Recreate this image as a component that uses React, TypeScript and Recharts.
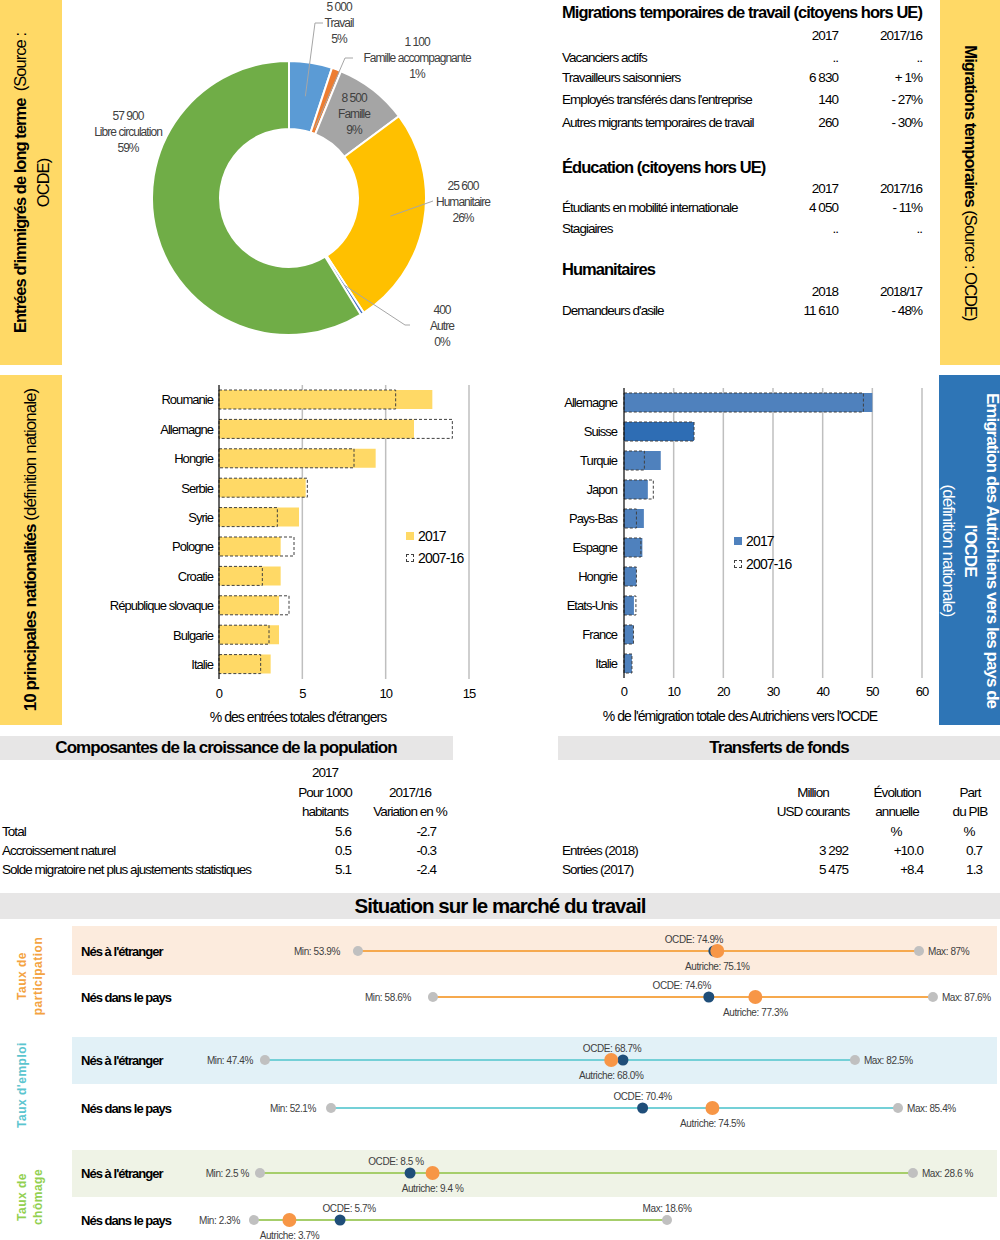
import React from "react";
import {
  PieChart,
  Pie,
  Cell,
  BarChart,
  Bar,
  XAxis,
  YAxis,
  CartesianGrid,
  Legend,
  ScatterChart,
  Scatter,
} from "recharts";

// no narrow face is installed, so tighten the tracking instead
const NARROW = "'Liberation Sans Narrow', 'Arial Narrow', 'Liberation Sans', Arial, sans-serif";
const WIDE = "'Liberation Sans', Arial, sans-serif";
const TIGHT = "-0.06em";
const YELLOW = "#FFD966";
const BLUE_BAND = "#2E75B6";

// Entrées d'immigrés de long terme
const entryCategories = ["Travail", "Famille accompagnante", "Famille", "Humanitaire", "Autre", "Libre circulation"];
const entryValues = [5000, 1100, 8500, 25600, 400, 57900];
const entryColors = ["#5B9BD5", "#ED7D31", "#A5A5A5", "#FFC000", "#4472C4", "#70AD47"];

// Migrations temporaires
const tempWorkLabels = ["Vacanciers actifs", "Travailleurs saisonniers", "Employés transférés dans l'entreprise", "Autres migrants temporaires de travail"];
const tempWork2017 = [null, 6830, 140, 260];
const tempWorkChange = [null, 1, -27, -30];
const eduLabels = ["Étudiants en mobilité internationale", "Stagiaires"];
const edu2017 = [4050, null];
const eduChange = [-11, null];
const humLabels = ["Demandeurs d'asile"];
const hum2018 = [11610];
const humChange = [-48];

// 10 principales nationalités
const immCountries = ["Roumanie", "Allemagne", "Hongrie", "Serbie", "Syrie", "Pologne", "Croatie", "République slovaque", "Bulgarie", "Italie"];
const imm2017 = [12.8, 11.7, 9.4, 5.2, 4.8, 3.7, 3.7, 3.6, 3.6, 3.1];
const imm0716 = [10.6, 14.0, 8.1, 5.3, 3.5, 4.5, 2.6, 4.2, 3.0, 2.5];
const immTicks = [0, 5, 10, 15];

// Emigration des Autrichiens
const emiCountries = ["Allemagne", "Suisse", "Turquie", "Japon", "Pays-Bas", "Espagne", "Hongrie", "Etats-Unis", "France", "Italie"];
const emi2017 = [50.0, 14.1, 7.4, 4.8, 4.0, 3.7, 2.5, 2.0, 1.9, 1.6];
const emi0716 = [48.2, 14.1, 4.1, 5.9, 2.5, 3.4, 2.5, 2.4, 1.9, 1.6];
const emiTicks = [0, 10, 20, 30, 40, 50, 60];

// Composantes de la croissance de la population
const popLabels = ["Total", "Accroissement naturel", "Solde migratoire net plus ajustements statistiques"];
const popPer1000 = [5.6, 0.5, 5.1];
const popChange = [-2.7, -0.3, -2.4];

// Transferts de fonds
const remLabels = ["Entrées (2018)", "Sorties (2017)"];
const remUsd = [3292, 5475];
const remGrowth = [10.0, 8.4];
const remGdp = [0.7, 1.3];

// Situation sur le marché du travail (valeurs telles qu'affichées)
const laborRowLabels = ["Nés à l'étranger", "Nés dans le pays"];
const partMin = ["53.9", "58.6"];
const partMax = ["87", "87.6"];
const partOcde = ["74.9", "74.6"];
const partAut = ["75.1", "77.3"];
const empMin = ["47.4", "52.1"];
const empMax = ["82.5", "85.4"];
const empOcde = ["68.7", "70.4"];
const empAut = ["68.0", "74.5"];
const unMin = ["2.5", "2.3"];
const unMax = ["28.6", "18.6"];
const unOcde = ["8.5", "5.7"];
const unAut = ["9.4", "3.7"];

const fmt = (v: number) => String(v).replace(/\B(?=(\d{3})+(?!\d))/g, " ");
const fmtChange = (v: number | null) => (v == null ? ".." : v > 0 ? `+ ${v}%` : `- ${Math.abs(v)}%`);

// label placement around the donut, relative to its centre
const entryLabelLayout: Record<string, any> = {
  Travail: { tx: 50, ty: -175, r: 103, leader: [[26, -175], [34, -175]] },
  "Famille accompagnante": { tx: 128, ty: -140, r: 75, leader: [[56, -140], [64, -140]] },
  Famille: { tx: 65, ty: -84 },
  Humanitaire: { tx: 174, ty: 4, r: 103, leader: [[144, 3]] },
  Autre: { tx: 153, ty: 128, r: 103, leader: [[116, 127], [121, 127]] },
  "Libre circulation": { tx: -161, ty: -66 },
};

const RAD = Math.PI / 180;

function renderEntryLabel(props: any) {
  const { cx, cy, midAngle, percent, name, value } = props;
  const lay = entryLabelLayout[name];
  if (!lay) return null;
  const tx = cx + lay.tx;
  const ty = cy + lay.ty;
  let leader = null;
  if (lay.leader) {
    const sx = cx + lay.r * Math.cos(-midAngle * RAD);
    const sy = cy + lay.r * Math.sin(-midAngle * RAD);
    const pts = [[sx, sy], ...lay.leader.map(([dx, dy]: number[]) => [cx + dx, cy + dy])];
    leader = <polyline points={pts.map((p) => p.join(",")).join(" ")} fill="none" stroke="#A6A6A6" strokeWidth={1} />;
  }
  const lines = [fmt(value), name, `${Math.round(percent * 100)}%`];
  return (
    <g>
      {leader}
      <text textAnchor="middle" fontSize={12} fill="#404040" fontFamily={NARROW}>
        {lines.map((l, i) => (
          <tspan key={i} x={tx} y={ty + (i - 1) * 16} dominantBaseline="central">
            {l}
          </tspan>
        ))}
      </text>
    </g>
  );
}

function T({ x, y, a = "l", size = 13.5, bold = false, color = "#000", children, lh = 18 }: any) {
  const w = 460;
  const left = a === "l" ? x : a === "r" ? x - w : x - w / 2;
  return (
    <div
      style={{
        position: "absolute",
        left,
        top: y - lh / 2,
        width: w,
        lineHeight: `${lh}px`,
        fontSize: size,
        fontWeight: bold ? 700 : 400,
        color,
        textAlign: a === "l" ? "left" : a === "r" ? "right" : "center",
        whiteSpace: "nowrap",
      }}
    >
      {children}
    </div>
  );
}

function VBand({ left, top, width, height, bg, color = "#000", rotate, children }: any) {
  return (
    <div style={{ position: "absolute", left, top, width, height, background: bg }}>
      <div
        style={{
          position: "absolute",
          left: (width - height) / 2,
          top: (height - width) / 2,
          width: height,
          height: width,
          transform: `rotate(${rotate}deg)`,
          display: "flex",
          flexDirection: "column",
          justifyContent: "center",
          alignItems: "center",
          textAlign: "center",
          color,
          whiteSpace: "nowrap",
        }}
      >
        {children}
      </div>
    </div>
  );
}

function GroupLabel({ cx, cy, color, lines }: any) {
  const w = 120;
  const h = 40;
  return (
    <div
      style={{
        position: "absolute",
        left: cx - w / 2,
        top: cy - h / 2,
        width: w,
        height: h,
        transform: "rotate(-90deg)",
        display: "flex",
        flexDirection: "column",
        justifyContent: "center",
        alignItems: "center",
        fontFamily: WIDE,
        fontWeight: 700,
        fontSize: 12,
        letterSpacing: "0.5px",
        lineHeight: "16px",
        color,
      }}
    >
      {lines.map((l: string) => (
        <div key={l}>{l}</div>
      ))}
    </div>
  );
}

const barLegend = (fill: string, rowH: number) => () => (
  <div style={{ fontFamily: NARROW, fontSize: 14, color: "#000", letterSpacing: TIGHT }}>
    <div style={{ display: "flex", alignItems: "center", height: rowH }}>
      <span style={{ display: "inline-block", width: 8, height: 8, background: fill, marginRight: 4 }} />
      2017
    </div>
    <div style={{ display: "flex", alignItems: "center", height: rowH }}>
      <span style={{ display: "inline-block", width: 6, height: 6, border: "1px dashed #404040", marginRight: 4 }} />
      2007-16
    </div>
  </div>
);

const tickStyle = { fill: "#000", fontSize: 13, fontFamily: NARROW };

function NationalityBars() {
  const data = immCountries.map((name, i) => ({ name, v2017: imm2017[i], v0716: imm0716[i] }));
  return (
    <BarChart layout="vertical" width={427} height={355} data={data} margin={{ top: 10, right: 20, bottom: 5, left: 0 }}>
      <CartesianGrid yAxisId="a" horizontal={false} stroke="#BFBFBF" strokeWidth={1.5} />
      <XAxis
        type="number"
        domain={[0, 15]}
        ticks={immTicks}
        axisLine={false}
        tickLine={false}
        tickSize={0}
        tickMargin={10}
        height={46}
        tick={tickStyle}
        label={{ value: "% des entrées totales d'étrangers", position: "insideBottom", offset: 3, dx: -46, fill: "#000", fontSize: 14, fontFamily: NARROW }}
      />
      <YAxis yAxisId="a" type="category" dataKey="name" width={157} axisLine={{ stroke: "#000" }} tickLine={false} tickSize={0} tickMargin={6} tick={tickStyle} interval={0} />
      <YAxis yAxisId="b" type="category" dataKey="name" hide />
      <Bar yAxisId="a" dataKey="v2017" fill={YELLOW} barSize={19} isAnimationActive={false} />
      <Bar yAxisId="b" dataKey="v0716" fill="none" stroke="#404040" strokeDasharray="3 2" barSize={19} isAnimationActive={false} />
      <Legend layout="vertical" align="center" verticalAlign="middle" wrapperStyle={{ left: 344, top: 150, width: "auto" }} content={barLegend(YELLOW, 22)} />
    </BarChart>
  );
}

function EmigrationBars() {
  const data = emiCountries.map((name, i) => ({ name, v2017: emi2017[i], v0716: emi0716[i] }));
  return (
    <BarChart layout="vertical" width={397} height={354} data={data} margin={{ top: 13, right: 15, bottom: 5, left: 0 }}>
      <CartesianGrid yAxisId="a" horizontal={false} stroke="#BFBFBF" strokeWidth={1.5} />
      <XAxis
        type="number"
        domain={[0, 60]}
        ticks={emiTicks}
        axisLine={false}
        tickLine={false}
        tickSize={0}
        tickMargin={9}
        height={46}
        tick={tickStyle}
        label={{ value: "% de l'émigration totale des Autrichiens vers l'OCDE", position: "insideBottom", offset: 3, dx: -33, fill: "#000", fontSize: 14, fontFamily: NARROW }}
      />
      <YAxis yAxisId="a" type="category" dataKey="name" width={84} axisLine={{ stroke: "#000" }} tickLine={false} tickSize={0} tickMargin={7} tick={tickStyle} interval={0} />
      <YAxis yAxisId="b" type="category" dataKey="name" hide />
      <Bar yAxisId="a" dataKey="v2017" fill="#4F81BD" barSize={19} isAnimationActive={false}>
        {data.map((d) => (
          <Cell key={d.name} fill={d.name === "Suisse" ? "#2E6DB4" : "#4F81BD"} />
        ))}
      </Bar>
      <Bar yAxisId="b" dataKey="v0716" fill="none" stroke="#404040" strokeDasharray="3 2" barSize={19} isAnimationActive={false} />
      <Legend layout="vertical" align="center" verticalAlign="middle" wrapperStyle={{ left: 194, top: 154, width: "auto" }} content={barLegend("#4F81BD", 23)} />
    </BarChart>
  );
}

// layout of each labour-market row
const laborGroups = [
  {
    name: ["Taux de", "participation"],
    color: "#F4A341",
    line: "#F6A94E",
    band: "#FCEBDD",
    min: partMin,
    max: partMax,
    ocde: partOcde,
    aut: partAut,
    rows: [
      { y: 951, domain: [32.78, 91.78], minDx: -18, ocdeDx: -20, unit: "%", bandTop: 926, bandH: 49 },
      { y: 997, domain: [33.49, 91.49], minDx: -22, ocdeDx: -27, unit: "%" },
    ],
    label: { cx: 30, cy: 976 },
  },
  {
    name: ["Taux d'emploi"],
    color: "#5BC5CF",
    line: "#74D0D7",
    band: "#E2F1F7",
    min: empMin,
    max: empMax,
    ocde: empOcde,
    aut: empAut,
    rows: [
      { y: 1060, domain: [31.64, 91.13], minDx: -12, ocdeDx: -11, unit: "%", bandTop: 1037, bandH: 47 },
      { y: 1108, domain: [32.66, 91.39], minDx: -15, ocdeDx: 0, unit: "%" },
    ],
    label: { cx: 22, cy: 1085 },
  },
  {
    name: ["Taux de", "chômage"],
    color: "#92D050",
    line: "#A6CE6B",
    band: "#EFF3E6",
    min: unMin,
    max: unMax,
    ocde: unOcde,
    aut: unAut,
    rows: [
      { y: 1173, domain: [-7.89, 32.08], minDx: -11, ocdeDx: -14, unit: " %", bandTop: 1150, bandH: 47 },
      { y: 1220, domain: [-7.72, 31.74], minDx: -14, ocdeDx: 9, unit: "%", maxAbove: true },
    ],
    label: { cx: 30, cy: 1197 },
  },
];

function LaborRow({ g, i }: any) {
  const row = g.rows[i];
  const ends = [
    { x: parseFloat(g.min[i]), y: 0, kind: "min", text: `Min: ${g.min[i]}${row.unit}` },
    { x: parseFloat(g.max[i]), y: 0, kind: "max", text: `Max: ${g.max[i]}${row.unit}` },
  ];
  const ocde = [{ x: parseFloat(g.ocde[i]), y: 0, kind: "ocde", text: `OCDE: ${g.ocde[i]}${row.unit}` }];
  const aut = [{ x: parseFloat(g.aut[i]), y: 0, kind: "aut", text: `Autriche: ${g.aut[i]}${row.unit}` }];

  const shape = (r: number, fill: string) => (p: any) => {
    const { cx, cy, payload } = p;
    let dx = 0;
    let dy = 0;
    let anchor = "middle";
    if (payload.kind === "min") {
      dx = row.minDx;
      anchor = "end";
    } else if (payload.kind === "max") {
      if (row.maxAbove) dy = -12;
      else {
        dx = 9;
        anchor = "start";
      }
    } else if (payload.kind === "ocde") {
      dx = row.ocdeDx;
      dy = -12;
    } else {
      dy = 15;
    }
    return (
      <g>
        <circle cx={cx} cy={cy} r={r} fill={fill} />
        <text
          x={cx + dx}
          y={cy + dy}
          textAnchor={anchor}
          dominantBaseline="central"
          fontSize={10}
          fill="#404040"
          fontFamily={NARROW}
          style={{ letterSpacing: "-0.04em" }}
        >
          {payload.text}
        </text>
      </g>
    );
  };

  return (
    <div style={{ position: "absolute", left: 0, top: row.y - 24 }}>
      <ScatterChart width={1000} height={48} margin={{ top: 0, right: 0, bottom: 0, left: 0 }}>
        <XAxis type="number" dataKey="x" domain={row.domain} hide allowDataOverflow />
        <YAxis type="number" dataKey="y" domain={[-1, 1]} hide />
        <Scatter data={ends} line={{ stroke: g.line, strokeWidth: 2 }} shape={shape(5, "#C0C0C0")} isAnimationActive={false} />
        <Scatter data={ocde} shape={shape(5.5, "#1F4E79")} isAnimationActive={false} />
        <Scatter data={aut} shape={shape(7, "#F79646")} isAnimationActive={false} />
      </ScatterChart>
    </div>
  );
}

export default function App() {
  const entryData = entryCategories.map((name, i) => ({ name, value: entryValues[i] }));
  return (
    <div style={{ position: "relative", width: 1000, height: 1240, background: "#fff", fontFamily: NARROW, letterSpacing: TIGHT, color: "#000", overflow: "hidden" }}>
      <style>{"body{margin:0}"}</style>

      {/* Entrées d'immigrés de long terme */}
      <VBand left={0} top={0} width={62} height={365} bg={YELLOW} rotate={-90}>
        <div style={{ fontSize: 16.5, lineHeight: "23px" }}>
          <b>Entrées d'immigrés de long terme</b>&nbsp; (Source :<br />
          OCDE)
        </div>
      </VBand>
      <div style={{ position: "absolute", left: 62, top: 0 }}>
        <PieChart width={470} height={365}>
          <Pie
            data={entryData}
            dataKey="value"
            nameKey="name"
            cx={222}
            cy={193}
            innerRadius={69}
            outerRadius={137}
            startAngle={90}
            endAngle={-270}
            label={renderEntryLabel}
            labelLine={false}
            stroke="#fff"
            strokeWidth={2}
            isAnimationActive={false}
          >
            {entryData.map((d, i) => (
              <Cell key={d.name} fill={entryColors[i]} />
            ))}
          </Pie>
        </PieChart>
      </div>

      {/* Migrations temporaires */}
      <T x={562} y={12} size={16.5} bold>Migrations temporaires de travail (citoyens hors UE)</T>
      <T x={838} y={36} a="r">2017</T>
      <T x={922} y={36} a="r">2017/16</T>
      {tempWorkLabels.map((l, i) => {
        const y = [58, 78, 100, 123][i];
        return (
          <React.Fragment key={l}>
            <T x={562} y={y}>{l}</T>
            <T x={838} y={y} a="r">{tempWork2017[i] == null ? ".." : fmt(tempWork2017[i] as number)}</T>
            <T x={922} y={y} a="r">{fmtChange(tempWorkChange[i])}</T>
          </React.Fragment>
        );
      })}
      <T x={562} y={167} size={16.5} bold>Éducation (citoyens hors UE)</T>
      <T x={838} y={189} a="r">2017</T>
      <T x={922} y={189} a="r">2017/16</T>
      {eduLabels.map((l, i) => {
        const y = [208, 229][i];
        return (
          <React.Fragment key={l}>
            <T x={562} y={y}>{l}</T>
            <T x={838} y={y} a="r">{edu2017[i] == null ? ".." : fmt(edu2017[i] as number)}</T>
            <T x={922} y={y} a="r">{fmtChange(eduChange[i])}</T>
          </React.Fragment>
        );
      })}
      <T x={562} y={269} size={16.5} bold>Humanitaires</T>
      <T x={838} y={292} a="r">2018</T>
      <T x={922} y={292} a="r">2018/17</T>
      {humLabels.map((l, i) => (
        <React.Fragment key={l}>
          <T x={562} y={311}>{l}</T>
          <T x={838} y={311} a="r">{fmt(hum2018[i])}</T>
          <T x={922} y={311} a="r">{fmtChange(humChange[i])}</T>
        </React.Fragment>
      ))}
      <VBand left={940} top={0} width={60} height={365} bg={YELLOW} rotate={90}>
        <div style={{ fontSize: 16.5 }}>
          <b>Migrations temporaires</b> (Source : OCDE)
        </div>
      </VBand>

      {/* 10 principales nationalités */}
      <VBand left={0} top={375} width={62} height={350} bg={YELLOW} rotate={-90}>
        <div style={{ fontSize: 17 }}>
          <b>10 principales nationalités</b> (définition nationale)
        </div>
      </VBand>
      <div style={{ position: "absolute", left: 62, top: 375 }}>
        <NationalityBars />
      </div>

      {/* Emigration */}
      <div style={{ position: "absolute", left: 540, top: 375 }}>
        <EmigrationBars />
      </div>
      <VBand left={939} top={375} width={61} height={350} bg={BLUE_BAND} color="#fff" rotate={90}>
        <div style={{ fontSize: 17, lineHeight: "22px" }}>
          <b>
            Emigration des Autrichiens vers les pays de
            <br />
            l'OCDE
          </b>
          <br />
          (définition nationale)
        </div>
      </VBand>

      {/* Composantes de la croissance de la population */}
      <div style={{ position: "absolute", left: 0, top: 736, width: 453, height: 24, background: "#E7E6E6" }} />
      <T x={226} y={748} a="c" size={17} bold>Composantes de la croissance de la population</T>
      <T x={325} y={773} a="c">2017</T>
      <T x={325} y={793} a="c">Pour 1000</T>
      <T x={325} y={812} a="c">habitants</T>
      <T x={410} y={793} a="c">2017/16</T>
      <T x={410} y={812} a="c">Variation en %</T>
      {popLabels.map((l, i) => {
        const y = 832 + i * 19;
        return (
          <React.Fragment key={l}>
            <T x={2} y={y}>{l}</T>
            <T x={351} y={y} a="r">{popPer1000[i].toFixed(1)}</T>
            <T x={436} y={y} a="r">{popChange[i].toFixed(1)}</T>
          </React.Fragment>
        );
      })}

      {/* Transferts de fonds */}
      <div style={{ position: "absolute", left: 558, top: 736, width: 442, height: 24, background: "#E7E6E6" }} />
      <T x={779} y={748} a="c" size={17} bold>Transferts de fonds</T>
      <T x={813} y={793} a="c">Million</T>
      <T x={813} y={812} a="c">USD courants</T>
      <T x={897} y={793} a="c">Évolution</T>
      <T x={897} y={812} a="c">annuelle</T>
      <T x={896} y={832} a="c">%</T>
      <T x={970} y={793} a="c">Part</T>
      <T x={970} y={812} a="c">du PIB</T>
      <T x={969} y={832} a="c">%</T>
      {remLabels.map((l, i) => {
        const y = 851 + i * 19;
        return (
          <React.Fragment key={l}>
            <T x={562} y={y}>{l}</T>
            <T x={848} y={y} a="r">{fmt(remUsd[i])}</T>
            <T x={923} y={y} a="r">{`+${remGrowth[i].toFixed(1)}`}</T>
            <T x={982} y={y} a="r">{remGdp[i].toFixed(1)}</T>
          </React.Fragment>
        );
      })}

      {/* Situation sur le marché du travail */}
      <div style={{ position: "absolute", left: 0, top: 893, width: 1000, height: 26, background: "#E7E6E6" }} />
      <T x={500} y={906} a="c" size={20.5} bold lh={24}>Situation sur le marché du travail</T>
      {laborGroups.map((g) => (
        <React.Fragment key={g.name.join(" ")}>
          {g.rows.map((row: any, i: number) =>
            row.bandTop ? (
              <div key={`band${i}`} style={{ position: "absolute", left: 72, top: row.bandTop, width: 925, height: row.bandH, background: g.band }} />
            ) : null
          )}
          <GroupLabel cx={g.label.cx} cy={g.label.cy} color={g.color} lines={g.name} />
          {g.rows.map((row: any, i: number) => (
            <React.Fragment key={`row${i}`}>
              <LaborRow g={g} i={i} />
              <T x={81} y={row.y + 1} size={13} bold>{laborRowLabels[i]}</T>
            </React.Fragment>
          ))}
        </React.Fragment>
      ))}
    </div>
  );
}
